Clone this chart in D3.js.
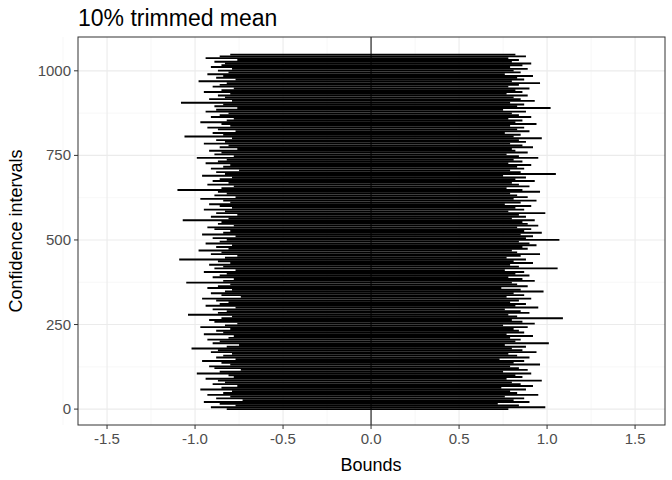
<!DOCTYPE html>
<html><head><meta charset="utf-8">
<script src="https://cdn.jsdelivr.net/npm/d3@7"></script>
<style>body{margin:0;background:#fff}</style></head>
<body><svg id="c" width="672" height="480"></svg>
<script>
const title = "10% trimmed mean";
const xTicks = [-1.5,-1.0,-0.5,0.0,0.5,1.0,1.5];
const yTicks = [0,250,500,750,1000];
const lower = [-0.82,-0.91,-0.77,-0.86,-0.95,-0.73,-0.88,-0.80,-0.93,-0.84,-0.79,-0.97,-0.85,-0.76,-0.90,
-0.83,-0.87,-0.94,-0.78,-0.81,-0.99,-0.86,-0.74,-0.89,-0.92,-0.80,-0.85,-0.96,-0.77,-0.88,
-0.84,-0.79,-0.91,-0.87,-1.02,-0.82,-0.75,-0.90,-0.86,-0.93,-0.81,-0.78,-0.95,-0.84,-0.88,
-0.80,-0.97,-0.83,-0.76,-0.89,-0.92,-0.85,-0.79,-1.04,-0.87,-0.82,-0.90,-0.77,-0.94,-0.86,
-0.81,-0.88,-0.96,-0.74,-0.85,-0.91,-0.83,-0.79,-0.93,-0.87,-0.80,-1.05,-0.84,-0.78,-0.90,
-0.86,-0.82,-0.95,-0.77,-0.89,-0.84,-0.92,-0.80,-0.87,-1.09,-0.83,-0.76,-0.91,-0.85,-0.98,
-0.81,-0.88,-0.79,-0.94,-0.86,-0.82,-0.90,-0.77,-0.96,-0.84,-0.80,-0.89,-0.93,-0.78,-0.87,
-0.85,-1.07,-0.81,-0.91,-0.76,-0.88,-0.83,-0.95,-0.79,-0.86,-0.92,-0.80,-0.84,-0.97,-0.77,
-0.89,-0.82,-0.87,-1.10,-0.85,-0.78,-0.93,-0.81,-0.90,-0.86,-0.79,-0.96,-0.83,-0.88,-0.75,
-0.91,-0.84,-0.80,-0.94,-0.87,-0.82,-0.99,-0.78,-0.89,-0.85,-0.92,-0.76,-0.86,-0.81,-0.95,
-0.83,-0.88,-0.79,-1.06,-0.84,-0.90,-0.77,-0.87,-0.93,-0.80,-0.85,-0.97,-0.82,-0.78,-0.91,
-0.86,-0.81,-0.94,-0.88,-0.76,-0.89,-0.84,-1.08,-0.79,-0.92,-0.83,-0.87,-0.80,-0.95,-0.85,
-0.78,-0.90,-0.86,-0.82,-0.98,-0.77,-0.88,-0.84,-0.93,-0.81,-0.87,-0.79,-0.91,-0.85,-0.83,
-0.89,-0.76,-0.94,-0.86,-0.80];
const upper = [0.78,0.99,0.84,0.72,0.90,0.81,0.87,0.76,0.95,0.83,0.79,0.88,0.74,0.92,0.85,
0.80,0.97,0.77,0.86,0.82,0.91,0.75,0.89,0.84,0.79,0.96,0.81,0.87,0.73,0.90,
0.83,0.78,0.94,0.86,0.80,0.88,0.76,1.01,0.82,0.85,0.79,0.92,0.77,0.87,0.84,
0.81,0.89,0.75,0.93,0.86,0.80,1.09,0.83,0.78,0.90,0.85,0.76,0.95,0.82,0.88,
0.79,0.84,0.91,0.77,0.87,0.81,0.98,0.85,0.74,0.89,0.83,0.80,0.93,0.86,0.78,
0.90,0.82,0.87,0.76,1.06,0.84,0.79,0.92,0.81,0.88,0.77,0.85,0.96,0.83,0.80,
0.89,0.86,0.94,0.90,0.84,1.07,0.88,0.92,0.85,0.97,0.87,0.91,0.83,0.95,0.89,
0.86,0.93,0.80,0.88,0.84,0.99,0.78,0.87,0.82,0.91,0.76,0.85,0.94,0.81,0.89,
0.83,0.79,0.96,0.86,0.77,0.90,0.84,0.80,0.93,0.82,0.88,0.75,1.05,0.85,0.79,
0.87,0.83,0.91,0.78,0.86,0.81,0.95,0.84,0.77,0.89,0.82,0.80,0.92,0.86,0.79,
0.88,0.84,0.97,0.81,0.85,0.76,0.90,0.83,0.87,0.79,0.94,0.82,0.86,0.78,0.91,
0.84,0.80,0.88,0.75,1.02,0.83,0.87,0.79,0.93,0.85,0.81,0.89,0.77,0.86,0.82,
0.90,0.78,0.84,0.96,0.80,0.87,0.83,0.92,0.76,0.85,0.81,0.89,0.79,0.86,0.91,
0.80,0.84,0.78,0.88,0.82];
const n = Math.min(lower.length, upper.length);
const svg = d3.select("#c");
const L=78,R=665,T=37,B=425;
const x = d3.scaleLinear().domain([-1.665,1.67]).range([L,R]);
const y = d3.scaleLinear().domain([-47,1100]).range([B,T]);
const g = svg.append("g");
const xMinor = d3.range(-1.75,1.8,0.5), yMinor=[125,375,625,875];
g.selectAll(".xm").data(xMinor).join("line").attr("x1",d=>x(d)).attr("x2",d=>x(d)).attr("y1",T).attr("y2",B).attr("stroke","#f2f2f2").attr("stroke-width",0.6);
g.selectAll(".ym").data(yMinor).join("line").attr("y1",d=>y(d)).attr("y2",d=>y(d)).attr("x1",L).attr("x2",R).attr("stroke","#f2f2f2").attr("stroke-width",0.6);
g.selectAll(".xg").data(xTicks).join("line").attr("x1",d=>x(d)).attr("x2",d=>x(d)).attr("y1",T).attr("y2",B).attr("stroke","#ebebeb").attr("stroke-width",1.1);
g.selectAll(".yg").data(yTicks).join("line").attr("y1",d=>y(d)).attr("y2",d=>y(d)).attr("x1",L).attr("x2",R).attr("stroke","#ebebeb").attr("stroke-width",1.1);
const step = 1048/(n-1);
g.selectAll(".ci").data(d3.range(n)).join("line")
 .attr("x1",i=>x(lower[i])).attr("x2",i=>x(upper[i]))
 .attr("y1",i=>y(i*step)).attr("y2",i=>y(i*step))
 .attr("stroke","#000").attr("stroke-width",1.9);
g.append("line").attr("x1",x(0)).attr("x2",x(0)).attr("y1",T).attr("y2",B).attr("stroke","#000").attr("stroke-width",1);
g.append("rect").attr("x",L).attr("y",T).attr("width",R-L).attr("height",B-T).attr("fill","none").attr("stroke","#333").attr("stroke-width",1);
const f="Liberation Sans, Arial, sans-serif";
xTicks.forEach(v=>{
 g.append("line").attr("x1",x(v)).attr("x2",x(v)).attr("y1",B).attr("y2",B+4).attr("stroke","#333");
 g.append("text").attr("x",x(v)).attr("y",B+19).attr("text-anchor","middle").attr("font-family",f).attr("font-size",15).attr("fill","#4d4d4d").text(v.toFixed(1));
});
yTicks.forEach(v=>{
 g.append("line").attr("x1",L-4).attr("x2",L).attr("y1",y(v)).attr("y2",y(v)).attr("stroke","#333");
 g.append("text").attr("x",L-7).attr("y",y(v)+5).attr("text-anchor","end").attr("font-family",f).attr("font-size",15).attr("fill","#4d4d4d").text(v);
});
svg.append("text").attr("x",x(0)).attr("y",471).attr("text-anchor","middle").attr("font-family",f).attr("font-size",18).text("Bounds");
svg.append("text").attr("transform",`translate(22,${(T+B)/2}) rotate(-90)`).attr("text-anchor","middle").attr("font-family",f).attr("font-size",18).text("Confidence intervals");
svg.append("text").attr("x",L).attr("y",26).attr("font-family",f).attr("font-size",23).text(title);
</script></body></html>
